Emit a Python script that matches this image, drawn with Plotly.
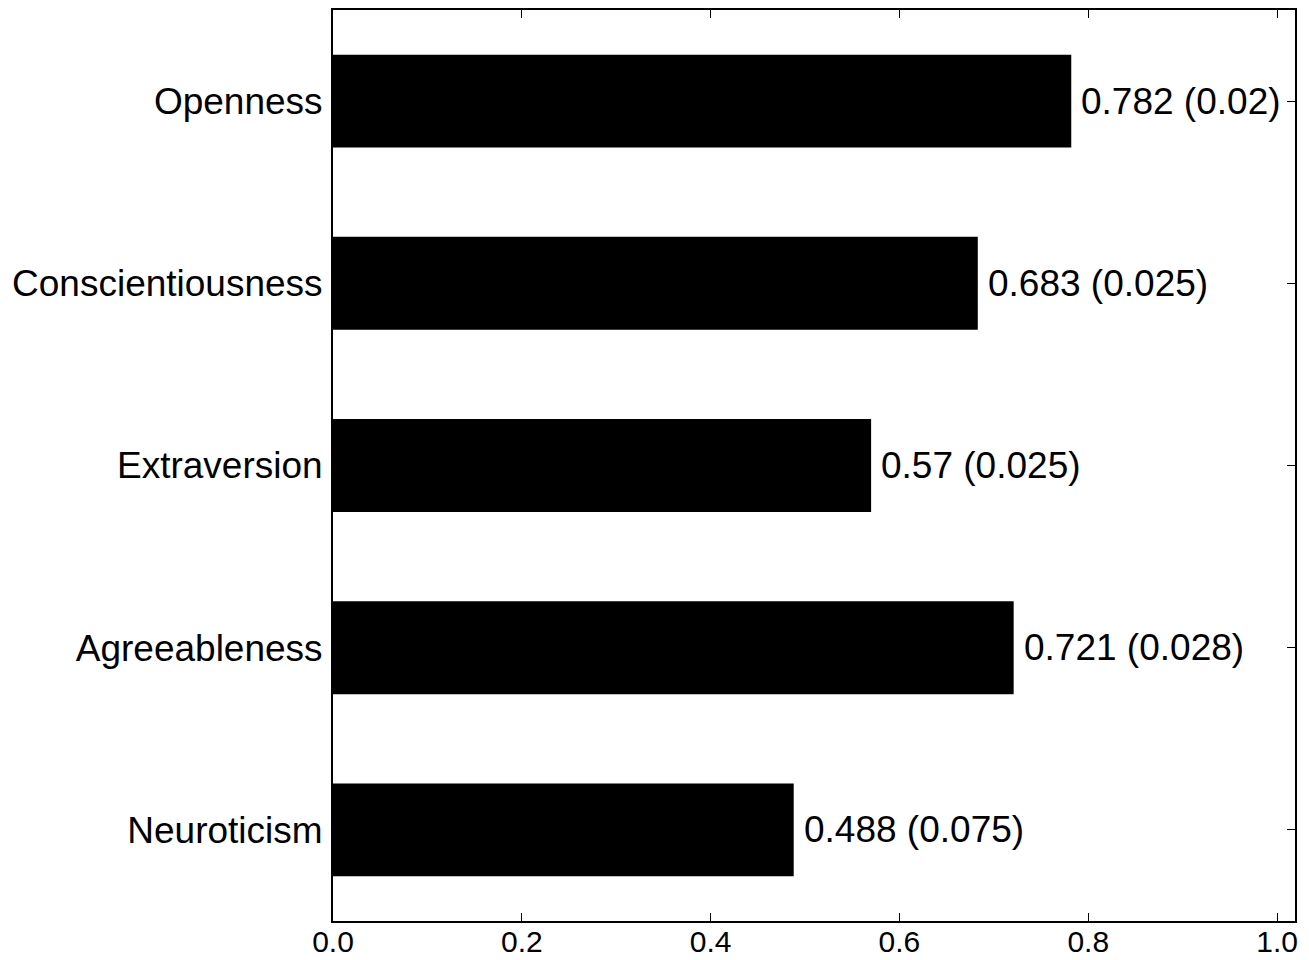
import plotly.graph_objects as go

categories = ["Openness", "Conscientiousness", "Extraversion", "Agreeableness", "Neuroticism"]
values = [0.782, 0.683, 0.57, 0.721, 0.488]
errors = [0.02, 0.025, 0.025, 0.028, 0.075]
x_ticks = [0.0, 0.2, 0.4, 0.6, 0.8, 1.0]
x_tick_labels = ["0.0", "0.2", "0.4", "0.6", "0.8", "1.0"]

labels = [f"{v:g} ({e:g})" for v, e in zip(values, errors)]
font_family = "Liberation Sans, Arial, sans-serif"

fig = go.Figure(go.Bar(
    x=values,
    y=categories,
    orientation="h",
    width=0.51,
    marker=dict(color="black", line=dict(width=0)),
    hoverinfo="x+y",
))

for v, c, t in zip(values, categories, labels):
    fig.add_annotation(
        x=v, y=c, text=t, showarrow=False,
        xanchor="left", yanchor="middle", xshift=8,
        font=dict(family=font_family, size=37, color="black"),
    )

fig.update_layout(
    width=1309, height=960,
    margin=dict(l=333, r=14, t=10, b=39),
    paper_bgcolor="white", plot_bgcolor="white",
    showlegend=False,
    font=dict(family=font_family, size=37, color="black"),
    xaxis=dict(
        range=[0, 1.019], tickvals=x_ticks, ticktext=x_tick_labels,
        ticks="inside", ticklen=8, tickwidth=1, tickcolor="black",
        showline=True, linecolor="black", linewidth=2, mirror="ticks",
        showgrid=False, zeroline=False,
        tickfont=dict(size=30),
        ticklabelstandoff=-7,
        automargin=False,
    ),
    yaxis=dict(
        categoryorder="array", categoryarray=categories[::-1],
        range=[-0.5, 4.5],
        ticks="inside", ticklen=8, tickwidth=1, tickcolor="black",
        showline=True, linecolor="black", linewidth=2, mirror="ticks",
        showgrid=False, zeroline=False,
        tickfont=dict(size=37),
        ticklabelstandoff=1,
        automargin=False,
    ),
)

fig.write_html(
    "out.html",
    config={"displayModeBar": False},
    post_script="document.body.style.margin='0';document.body.style.overflow='hidden';",
)
